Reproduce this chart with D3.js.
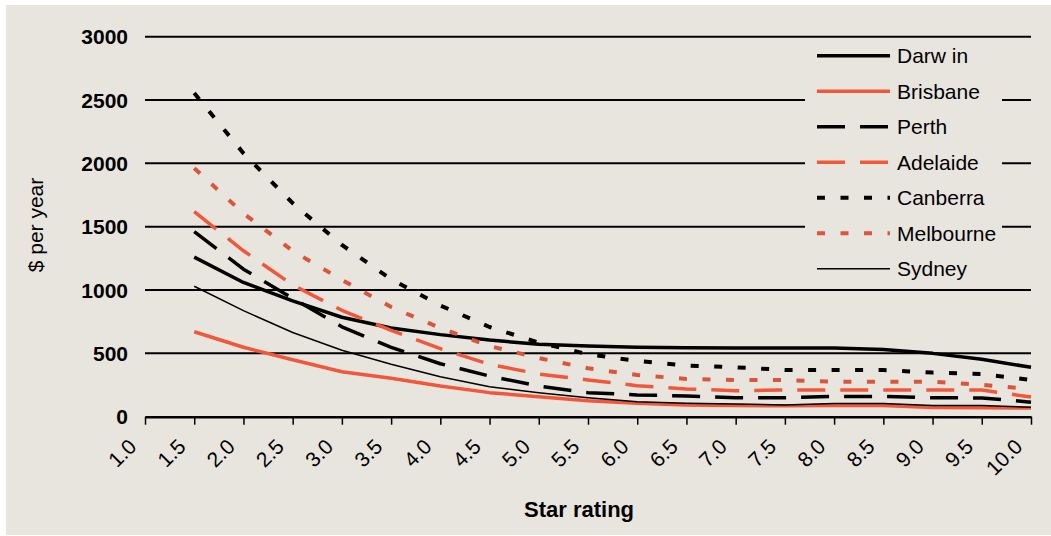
<!DOCTYPE html>
<html>
<head>
<meta charset="utf-8">
<script src="https://cdn.jsdelivr.net/npm/d3@7"></script>
<style>
  html, body { margin: 0; padding: 0; background: #ffffff; }
  svg { display: block; font-family: "Liberation Sans", Arial, sans-serif; }
</style>
</head>
<body>
<svg id="chart" width="1051" height="536"></svg>
<script>
// Star rating categories along the x axis
const categories = ["1.0","1.5","2.0","2.5","3.0","3.5","4.0","4.5","5.0","5.5",
                    "6.0","6.5","7.0","7.5","8.0","8.5","9.0","9.5","10.0"];
// Ratings that carry data (1.5 to 10.0)
const ratings = categories.slice(1);

// Annual cost ($ per year) by city
const darwin    = [1260,1060,915,785,700,648,605,572,558,548,545,542,542,542,530,500,453,390];
const brisbane  = [671,548,450,355,303,242,190,158,126,106,92,88,86,88,88,72,70,68];
const perth     = [1461,1165,935,710,548,418,321,242,190,172,163,150,150,160,160,150,148,115];
const adelaide  = [1619,1310,1040,840,681,537,414,337,290,245,219,205,211,211,211,211,211,155];
const canberra  = [2555,2080,1686,1356,1085,878,708,585,493,440,403,390,369,369,369,348,337,290];
const melbourne = [1962,1605,1309,1080,866,700,558,463,382,329,298,290,290,276,276,276,252,219];
const sydney    = [1030,837,665,525,414,316,237,190,150,118,106,100,92,105,105,88,88,74];

const yTicks = [0, 500, 1000, 1500, 2000, 2500, 3000];

const BLACK = "#000000";
const ORANGE = "#f2573a";
const ORANGE_DOT = "#dc553a";

const series = [
  { name: "Darw in",   values: darwin,    color: BLACK,      width: 3.5, dash: null },
  { name: "Brisbane",  values: brisbane,  color: ORANGE,     width: 3.5, dash: null },
  { name: "Perth",     values: perth,     color: BLACK,      width: 3.5, dash: "28,15" },
  { name: "Adelaide",  values: adelaide,  color: ORANGE,     width: 3.5, dash: "28,15" },
  { name: "Canberra",  values: canberra,  color: BLACK,      width: 4,   dash: "8,15.5" },
  { name: "Melbourne", values: melbourne, color: ORANGE_DOT, width: 4,   dash: "8,15.5" },
  { name: "Sydney",    values: sydney,    color: BLACK,      width: 1.5, dash: null }
];

const svg = d3.select("#chart");
const BG = "#e8e5df";

// panel background with thin white margin at top/left
svg.append("rect").attr("x", 6).attr("y", 5).attr("width", 1045).attr("height", 530).attr("fill", BG);

const x = d3.scalePoint().domain(categories).range([145, 1031]);
const y = d3.scaleLinear().domain([0, 3000]).range([416.7, 36.7]);

// horizontal gridlines
svg.append("g").selectAll("line")
  .data(yTicks.filter(d => d > 0))
  .join("line")
  .attr("x1", 145).attr("x2", 1031)
  .attr("y1", d => y(d)).attr("y2", d => y(d))
  .attr("stroke", "#000").attr("stroke-width", 2);

// x axis
const xAxis = svg.append("g").attr("transform", `translate(0,${y(0)})`)
  .call(d3.axisBottom(x).tickSize(8).tickSizeOuter(0));
xAxis.select(".domain").attr("stroke", "#000").attr("stroke-width", 2.5);
xAxis.selectAll(".tick line").attr("stroke", "#000").attr("stroke-width", 1.5);
xAxis.selectAll(".tick text")
  .attr("font-size", 21).attr("font-family", "Liberation Sans, Arial, sans-serif")
  .attr("fill", "#000")
  .attr("text-anchor", "end")
  .attr("y", 0).attr("dy", "0.35em")
  .attr("transform", "translate(-13,26) rotate(-45)");

// y tick labels
svg.append("g").selectAll("text")
  .data(yTicks)
  .join("text")
  .attr("x", 128).attr("y", d => y(d)).attr("dy", "0.36em")
  .attr("text-anchor", "end")
  .attr("font-size", 21).attr("font-weight", "bold")
  .text(d => d);

// axis titles
svg.append("text")
  .attr("transform", "translate(43,225) rotate(-90)")
  .attr("text-anchor", "middle").attr("font-size", 21)
  .text("$ per year");
svg.append("text")
  .attr("x", 579).attr("y", 517)
  .attr("text-anchor", "middle").attr("font-size", 22).attr("font-weight", "bold")
  .text("Star rating");

// legend box (covers gridlines behind it)
svg.append("rect").attr("x", 805).attr("y", 42).attr("width", 197).attr("height", 244).attr("fill", BG);

// data lines
const line = d3.line()
  .x((d, i) => x(ratings[i]))
  .y(d => y(d));

svg.append("g").selectAll("path")
  .data(series)
  .join("path")
  .attr("d", s => line(s.values))
  .attr("fill", "none")
  .attr("stroke", s => s.color)
  .attr("stroke-width", s => s.width)
  .attr("stroke-dasharray", s => s.dash)
  .attr("stroke-linejoin", "round");

// legend entries
const leg = svg.append("g").selectAll("g")
  .data(series)
  .join("g")
  .attr("transform", (s, i) => `translate(0,${55.7 + i * 35.5})`);
leg.append("line")
  .attr("x1", 817).attr("x2", 890).attr("y1", 0).attr("y2", 0)
  .attr("stroke", s => s.color)
  .attr("stroke-width", s => s.width)
  .attr("stroke-dasharray", s => s.dash);
leg.append("text")
  .attr("x", 897).attr("y", 0).attr("dy", "0.36em")
  .attr("font-size", 21)
  .text(s => s.name);
</script>
</body>
</html>
